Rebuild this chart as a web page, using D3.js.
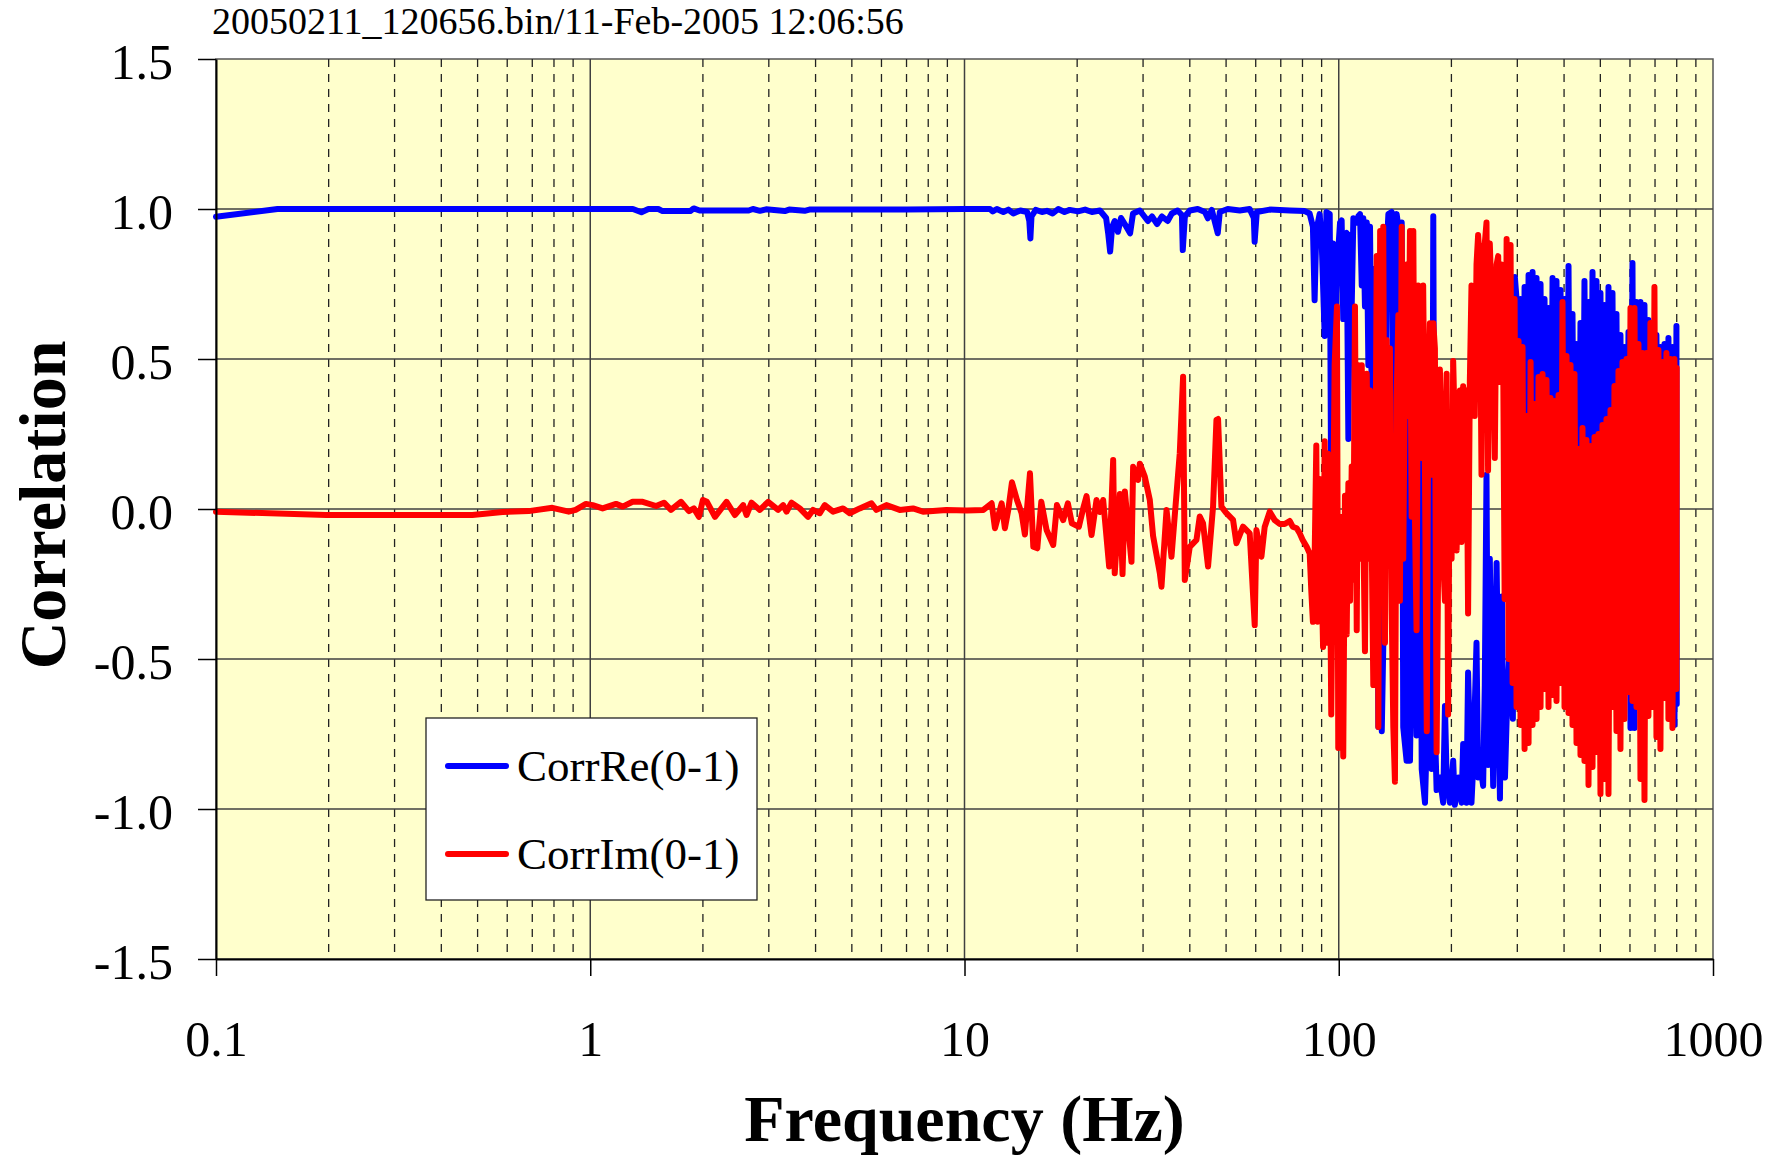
<!DOCTYPE html>
<html>
<head>
<meta charset="utf-8">
<script src="https://cdnjs.cloudflare.com/ajax/libs/d3/7.8.5/d3.min.js"></script>
<style>
body { margin: 0; background: #fff; }
text { font-family: "Liberation Serif", "Times New Roman", serif; }
</style>
</head>
<body>
<svg id="chart" width="1780" height="1157"></svg>
<script>
// correlation chart ........

var chartTitle = "20050211_120656.bin/11-Feb-2005 12:06:56";
var xTitle = "Frequency (Hz)";
var yTitle = "Correlation";
var seriesNames = ["CorrRe(0-1)", "CorrIm(0-1)"];
var seriesColors = ["#0000ff", "#ff0000"];

var xTicks = [0.1, 1, 10, 100, 1000];
var xTickLabels = ["0.1", "1", "10", "100", "1000"];
var yTicks = [-1.5, -1, -0.5, 0, 0.5, 1, 1.5];
var yTickLabels = ["-1.5", "-1.0", "-0.5", "0.0", "0.5", "1.0", "1.5"];

// [frequency Hz, correlation]
var corrRe = [
	[0.1,0.974],[0.146,1.0],[1.30,1.0],[1.37,0.989],[1.43,1.0],[1.52,1.0],[1.56,0.993],[1.85,0.993],[1.89,1.002],[1.96,0.995],
	[2.65,0.995],[2.72,1.0],[2.84,0.994],[2.95,0.999],[3.31,0.993],[3.40,0.998],[3.74,0.994],[3.85,0.998],[5.0,0.998],[7.0,0.998],[10.0,1.0],
	[11.7,1.0],[11.9,0.992],[12.2,1.0],[12.7,0.99],[13.1,0.998],[13.5,0.985],[14.1,0.995],[14.7,0.99],[14.9,0.96],[15.0,0.902],
	[15.1,0.975],[15.5,0.997],[16.1,0.99],[16.6,0.994],[17.2,0.985],[17.8,1.0],[18.5,0.99],[19.1,0.997],[20.1,0.992],[21.0,0.998],
	[21.9,0.99],[23.0,0.995],[23.9,0.97],[24.2,0.92],[24.5,0.858],[24.8,0.94],[25.2,0.96],[25.7,0.924],[26.2,0.97],[26.8,0.95],
	[27.7,0.919],[28.2,0.985],[29.4,0.995],[30.9,0.96],[31.7,0.975],[32.7,0.95],[33.7,0.975],[34.9,0.96],[35.8,0.985],[37.1,0.995],
	[38.1,0.98],[38.3,0.863],[38.8,0.975],[40.0,0.995],[42.0,1.0],[43.9,0.99],[44.7,0.969],[45.8,0.997],[47.5,0.919],[48.1,0.99],
	[50.5,1.0],[54.4,0.995],[57.8,1.0],[59.3,0.97],[59.6,0.891],[60.4,0.99],[65.4,0.998],[74.0,0.995],[81.1,0.993],[83.6,0.985],
	[84.5,0.962],[85.3,0.941],[86.2,0.696],[87.1,0.927],[88.9,0.983],[90.0,0.899],[91.7,0.577],[92.7,0.99],[94.6,0.983],[95.5,-0.012],
	[96.5,0.885],[97.5,0.198],[98.5,0.717],[99.8,0.871],
	[100.8,0.955],[101.8,0.962],[102.8,0.633],[103.9,0.913],[105.0,0.92],[106.1,0.233],[107.2,0.913],[108.3,0.675],[109.4,0.969],[111.7,0.955],
	[112.8,0.976],[114.0,0.983],[115.2,0.745],[116.3,0.969],[117.5,0.675],[118.8,0.955],[120.0,0.479],[121.2,0.941],[122.5,0.367],[125.0,0.801],
	[126.3,0.395],[127.6,-0.727],[129.0,-0.306],[130.3,-0.741],[132.9,-0.138],[134.3,0.864],[135.7,0.983],[138.5,0.99],[139.9,0.17],[141.3,0.955],
	[142.8,0.983],[144.3,0.941],[145.7,0.633],[147.3,0.955],[148.7,-0.727],[151.8,-0.839],[153.4,0.451],[155.0,-0.839],[158.2,-0.026],[161.4,-0.755],
	[164.9,0.156],[166.6,-0.867],[170.0,-0.979],[171.9,-0.755],[175.2,0.072],[177.1,-0.867],[178.9,0.976],[180.7,-0.727],[182.6,-0.937],[186.3,-0.895],
	[190.1,-0.979],[192.2,-0.657],[194.2,-0.895],[198.1,-0.979],[202.2,-0.839],[204.3,-0.986],[208.5,-0.895],[212.9,-0.979],[215.0,-0.783],[219.4,-0.979],
	[221.6,-0.545],[226.3,-0.979],[228.5,-0.867],[233.4,-0.446],[235.7,-0.895],[238.2,-0.839],[243.1,-0.923],[245.6,-0.587],[248.2,0.114],[250.6,-0.853],
	[253.3,-0.166],[258.6,-0.923],[264.1,-0.18],[266.7,-0.587],[269.6,-0.965],[272.9,-0.292],[275.5,-0.811],[278.1,-0.895],[281.6,-0.657],[286.6,-0.446],
	[291.9,-0.699],[295.5,0.773],
	[298.6,0.70],[302.3,-0.30],[306.0,0.70],[309.8,-0.40],[313.7,0.74],[317.5,-0.30],[321.5,0.78],[325.5,-0.40],[329.5,0.79],[333.6,-0.30],
	[337.7,0.77],[341.9,-0.40],[346.1,0.75],[350.4,-0.30],[354.7,0.70],[359.1,-0.40],[363.5,0.67],[368.0,-0.30],[372.6,0.77],[377.2,-0.40],
	[381.8,0.76],[386.6,-0.30],[391.4,0.73],[396.2,-0.40],[401.1,0.70],[406.1,-0.30],[411.1,0.81],[416.2,-0.40],[421.3,0.65],[426.5,-0.30],
	[431.8,0.55],[437.1,-0.40],[442.5,0.62],[448.0,-0.30],[453.5,0.76],[459.1,-0.40],[464.9,0.69],[470.6,-0.30],[476.5,0.79],[482.4,-0.40],
	[488.3,0.76],[494.3,-0.30],[500.4,0.72],[506.6,-0.40],[512.9,0.68],[519.2,-0.30],[525.7,0.74],[532.2,-0.40],[538.8,0.72],[545.4,-0.30],
	[552.2,0.65],[559.0,-0.40],[565.9,0.58],[572.9,-0.30],[580.0,0.54],[587.2,-0.40],[594.5,0.59],[601.9,-0.73],[609.3,0.82],[616.9,-0.73],
	[624.5,0.69],[632.2,-0.40],[640.0,0.69],[647.9,-0.30],[656.0,0.68],[664.1,-0.40],[672.2,0.63],[680.5,-0.52],[689.0,0.62],[697.5,-0.40],
	[706.1,0.58],[714.9,-0.30],[723.7,0.54],[732.7,-0.40],[741.8,0.55],[750.9,-0.30],[760.2,0.57],[769.6,-0.40],[779.2,0.54],[788.8,-0.72],
	[798.6,0.61],[800,-0.65]
];

var corrIm = [
	[0.1,-0.009],[0.197,-0.02],[0.484,-0.02],[0.583,-0.01],[0.685,-0.007],[0.792,0.004],[0.876,-0.009],[0.914,-0.003],[0.974,0.017],[1.015,0.013],
	[1.079,0.002],[1.172,0.017],[1.221,0.008],[1.298,0.024],[1.381,0.024],[1.499,0.01],[1.574,0.021],[1.643,-0.003],[1.747,0.024],[1.835,-0.007],
	[1.892,0.002],[1.951,-0.026],[2.000,0.03],[2.050,0.024],[2.154,-0.026],[2.313,0.024],[2.434,-0.02],[2.562,0.013],[2.616,-0.02],[2.698,0.021],
	[2.839,-0.003],[2.987,0.024],[3.177,-0.003],[3.276,0.013],[3.345,-0.009],[3.450,0.021],[3.630,0.002],[3.820,-0.026],[3.939,-0.003],[4.105,-0.014],
	[4.233,0.013],[4.454,-0.009],[4.737,0.002],[4.936,-0.014],[5.249,0.002],[5.640,0.019],[5.816,-0.003],[6.185,0.013],[6.712,-0.003],[7.285,0.002],
	[7.746,-0.009],[8.943,-0.003],[10.14,-0.005],[11.23,-0.003],[11.82,0.019],[12.06,-0.064],[12.57,0.019],[12.82,-0.064],[13.09,-0.003],[13.39,0.089],
	[13.81,0.03],[14.21,-0.014],[14.50,-0.085],[14.96,0.119],[15.27,-0.126],[15.65,-0.131],[16.04,0.024],[16.57,-0.07],[17.26,-0.12],[17.66,0.013],
	[18.35,-0.037],[18.89,0.019],[19.36,-0.048],[20.21,-0.059],[20.76,0.002],[21.19,0.043],[21.85,-0.087],[22.53,0.03],[23.00,-0.01],[23.47,0.03],
	[24.35,-0.192],[24.96,0.163],[25.2,-0.214],[26.01,0.05],[26.44,-0.217],[26.82,0.058],[27.94,-0.176],[28.22,0.141],[29.10,0.097],[29.41,0.151],
	[30.32,0.108],[31.27,0.03],[31.91,-0.09],[33.26,-0.214],[33.60,-0.259],[34.66,-0.003],[35.73,-0.159],[37.60,0.186],[38.38,0.441],[38.78,-0.237],
	[39.99,-0.126],[41.67,-0.103],[42.52,-0.025],[43.39,-0.048],[44.75,-0.192],[46.15,0.008],[47.12,0.297],[47.59,0.30],[48.58,0.008],[50.10,-0.014],
	[52.18,-0.036],[53.29,-0.114],[55.49,-0.059],[57.82,-0.081],[59.63,-0.387],[60.26,-0.07],[62.14,-0.159],[63.4,-0.06],[65.40,-0.009],[67.43,-0.037],
	[69.53,-0.05],[71.71,-0.05],[73.95,-0.04],[75.32,-0.059],[77.20,-0.064],[78.64,-0.081],[80.10,-0.103],[82.09,-0.126],[83.62,-0.148],
	[84.5,-0.278],[85.3,-0.376],[86.2,-0.166],[87.1,0.212],[87.8,-0.376],[88.9,0.10],[89.8,-0.166],[90.8,-0.46],[91.7,0.226],[92.7,-0.446],
	[93.6,0.184],[94.6,-0.054],[95.5,-0.685],[96.5,-0.096],[97.5,0.479],[98.9,0.675],[99.7,-0.797],[100.8,-0.026],[101.8,-0.418],[102.8,-0.825],
	[103.9,0.044],[105.0,-0.418],[106.1,0.086],[107.2,-0.306],[108.3,0.142],[109.4,-0.236],[110.5,0.675],[111.7,-0.404],[112.8,0.479],[114.0,-0.166],
	[115.2,0.479],[116.3,-0.054],[117.5,-0.474],[118.8,0.451],[120.0,-0.166],[121.2,0.395],[123.7,-0.587],[125.0,-0.166],[126.3,0.843],[127.6,-0.727],
	[129.0,0.927],[130.3,-0.11],[131.5,0.941],[132.9,-0.446],[134.3,0.563],[135.7,-0.11],[137.0,0.535],[138.5,-0.334],[139.9,-0.727],[141.3,-0.909],
	[142.8,0.367],[144.3,0.647],[145.7,-0.306],[147.3,0.941],[148.7,-0.166],[150.2,0.451],[151.8,0.815],[153.4,0.31],[155.0,0.927],[156.6,-0.026],
	[158.2,0.927],[159.8,-0.026],[161.4,-0.404],[163.0,0.745],[164.9,0.212],[166.6,0.17],[168.1,0.745],[170.0,0.114],[171.9,-0.741],[173.4,0.367],
	[175.2,0.619],[177.1,0.114],[178.9,0.619],[180.7,0.535],[182.6,-0.811],[184.4,-0.166],[186.3,0.465],[188.3,0.254],[190.1,-0.166],[192.2,-0.306],
	[194.2,0.451],[196.0,-0.685],[198.1,0.31],[200.2,-0.166],[202.2,0.493],[204.3,0.254],[206.5,-0.138],[208.5,0.114],[210.7,0.395],[212.9,-0.11],
	[215.0,0.409],[217.2,0.114],[219.4,0.395],[221.6,-0.348],[224.0,0.423],[226.3,0.745],[228.5,0.731],[230.9,0.31],[233.4,0.815],[235.7,0.913],
	[238.2,0.829],[240.7,0.114],[243.1,0.871],[245.6,0.885],[248.2,0.955],[250.6,0.128],[253.3,0.885],[258.6,0.535],[261.2,0.17],[264.1,0.815],
	[266.7,0.843],[269.6,0.423],[272.9,0.815],
	[274.1,0.80],[277.5,-0.30],[280.9,0.90],[284.3,-0.50],[287.8,0.88],[291.4,-0.58],[295.0,0.70],[298.6,-0.66],[302.3,0.56],[306.0,-0.72],
	[309.8,0.54],[313.7,-0.80],[317.5,0.31],[321.5,-0.78],[325.5,0.49],[329.5,-0.72],[333.6,0.35],[337.7,-0.70],[341.9,0.44],[346.1,-0.66],
	[350.4,0.45],[354.7,-0.60],[359.1,0.43],[363.5,-0.66],[368.0,0.37],[372.6,-0.62],[377.2,0.36],[381.8,-0.64],[386.6,0.38],[391.4,-0.58],
	[396.2,0.69],[401.1,-0.66],[406.1,0.51],[411.1,-0.68],[416.2,0.48],[421.3,-0.72],[426.5,0.45],[431.8,-0.78],[437.1,0.20],[442.5,-0.82],
	[448.0,0.27],[453.5,-0.84],[459.1,0.23],[464.9,-0.92],[470.6,0.21],[476.5,-0.86],[482.4,0.24],[488.3,-0.81],[494.3,0.25],[500.4,-0.95],
	[506.6,0.28],[512.9,-0.90],[519.2,0.30],[525.7,-0.95],[532.2,0.33],[538.8,-0.66],[545.4,0.41],[552.2,-0.74],[559.0,0.46],[565.9,-0.80],
	[572.9,0.49],[580.0,-0.70],[587.2,0.50],[594.5,-0.61],[601.9,0.67],[609.3,-0.64],[616.9,0.67],[624.5,-0.66],[632.2,0.55],[640.0,-0.90],
	[647.9,0.52],[656.0,-0.97],[664.1,0.52],[672.2,-0.69],[680.5,0.62],[689.0,-0.66],[697.5,0.74],[706.1,-0.76],[714.9,0.53],[723.7,-0.80],
	[732.7,0.49],[741.8,-0.63],[750.9,0.52],[760.2,-0.70],[769.6,0.50],[779.2,-0.73],[788.8,0.50],[798.6,-0.60],[800,0.47]
];

var W = 1780, H = 1157;
var plot = {left: 216, top: 59, right: 1713, bottom: 959};
var serif = "'Liberation Serif', 'Times New Roman', serif";

var svg = d3.select("#chart");

var x = d3.scaleLog().domain([0.1, 1000]).range([plot.left, plot.right]);
var y = d3.scaleLinear().domain([-1.5, 1.5]).range([plot.bottom, plot.top]);

svg.append("svg:rect")
	.attr("width", W)
	.attr("height", H)
	.attr("fill", "#ffffff");

// yellow plot area
svg.append("svg:rect")
	.attr("x", plot.left)
	.attr("y", plot.top)
	.attr("width", plot.right - plot.left)
	.attr("height", plot.bottom - plot.top)
	.attr("fill", "#ffffcc")
	.attr("stroke", "#555")
	.attr("stroke-width", 1.5);

// vertical grid: decades solid, the rest dashed
var grid = svg.append("svg:g").attr("id", "grid");
x.ticks().forEach(function(d){
	var lg = Math.log10(d);
	var major = Math.abs(lg - Math.round(lg)) < 1e-6;
	if (d <= 0.1 || d >= 1000) return;
	grid.append("svg:line")
		.attr("x1", x(d)).attr("x2", x(d))
		.attr("y1", plot.top).attr("y2", plot.bottom)
		.attr("stroke", major ? "#404040" : "#222")
		.attr("stroke-width", major ? 1.5 : 1.3)
		.attr("stroke-dasharray", major ? null : "8,7");
});

// horizontal grid
yTicks.forEach(function(d){
	if (d == -1.5 || d == 1.5) return;
	grid.append("svg:line")
		.attr("x1", plot.left).attr("x2", plot.right)
		.attr("y1", y(d)).attr("y2", y(d))
		.attr("stroke", "#404040")
		.attr("stroke-width", 1.5);
});

// the two traces, red on top
var line = d3.line()
	.x(function(d){ return x(d[0]); })
	.y(function(d){ return y(d[1]); });

[corrRe, corrIm].forEach(function(series, i){
	svg.append("svg:path")
		.datum(series)
		.attr("d", line)
		.attr("fill", "none")
		.attr("stroke", seriesColors[i])
		.attr("stroke-width", 6)
		.attr("stroke-linejoin", "round")
		.attr("stroke-linecap", "round");
});

// axes
var yAxis = d3.axisLeft(y)
	.tickValues(yTicks)
	.tickSize(18)
	.tickSizeOuter(0)
	.tickPadding(25)
	.tickFormat(function(d, i){ return yTickLabels[i]; });

var xAxis = d3.axisBottom(x)
	.tickValues(xTicks)
	.tickSize(17)
	.tickSizeOuter(0)
	.tickPadding(44)
	.tickFormat(function(d, i){ return xTickLabels[i]; });

var ya = svg.append("svg:g")
	.attr("transform", "translate(" + plot.left + ",0)")
	.call(yAxis);
var xa = svg.append("svg:g")
	.attr("transform", "translate(0," + plot.bottom + ")")
	.call(xAxis);

[ya, xa].forEach(function(a){
	a.select(".domain").attr("stroke", "#000").attr("stroke-width", 2);
	a.selectAll(".tick line").attr("stroke", "#000").attr("stroke-width", 1.5);
	a.selectAll(".tick text")
		.attr("fill", "#000")
		.style("font-family", serif)
		.style("font-size", "50px");
});
ya.selectAll(".tick text").attr("dy", "0.39em");

// titles
svg.append("svg:text")
	.attr("x", 212)
	.attr("y", 34)
	.style("font-family", serif)
	.style("font-size", "38px")
	.text(chartTitle);

svg.append("svg:text")
	.attr("x", (plot.left + plot.right) / 2)
	.attr("y", 1141)
	.attr("text-anchor", "middle")
	.style("font-family", serif)
	.style("font-size", "66px")
	.style("font-weight", "bold")
	.text(xTitle);

svg.append("svg:text")
	.attr("transform", "translate(65," + ((plot.top + plot.bottom) / 2 - 4) + ") rotate(-90)")
	.attr("text-anchor", "middle")
	.style("font-family", serif)
	.style("font-size", "66px")
	.style("font-weight", "bold")
	.text(yTitle);

// legend
var legend = svg.append("svg:g").attr("id", "legend");
legend.append("svg:rect")
	.attr("x", 426)
	.attr("y", 718)
	.attr("width", 331)
	.attr("height", 182)
	.attr("fill", "#ffffff")
	.attr("stroke", "#222")
	.attr("stroke-width", 1.3);

seriesNames.forEach(function(name, i){
	var ly = 766 + i * 88;
	legend.append("svg:line")
		.attr("x1", 448).attr("x2", 506)
		.attr("y1", ly).attr("y2", ly)
		.attr("stroke", seriesColors[i])
		.attr("stroke-width", 6)
		.attr("stroke-linecap", "round");
	legend.append("svg:text")
		.attr("x", 517)
		.attr("y", ly + 15)
		.style("font-family", serif)
		.style("font-size", "45px")
		.text(name);
});
</script>
</body>
</html>
